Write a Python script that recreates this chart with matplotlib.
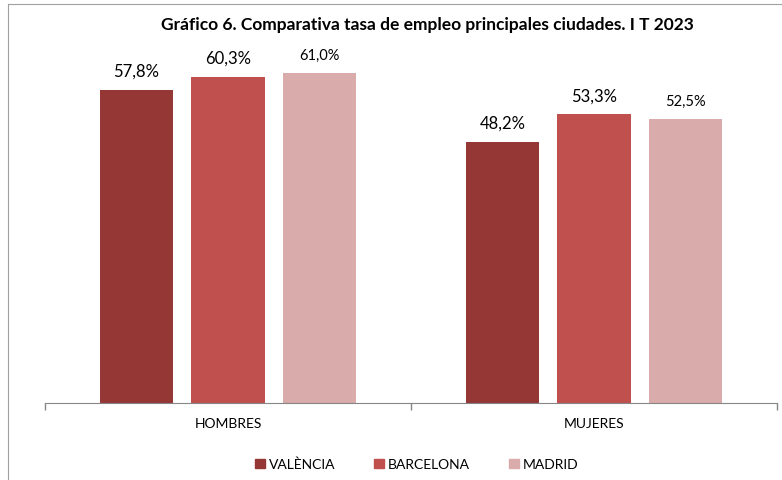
import numpy as np
import matplotlib.pyplot as plt
from matplotlib.lines import Line2D
from matplotlib.patches import Patch

plt.rcParams['font.family'] = ['Lato', 'DejaVu Sans']

# data
categories = ['HOMBRES', 'MUJERES']
cities = ['VALÈNCIA', 'BARCELONA', 'MADRID']
valencia = [57.8, 48.2]
barcelona = [60.3, 53.3]
madrid = [61.0, 52.5]
colors = ['#953735', '#C0504D', '#DAABAB']
label_sizes = [12, 12, 10.5]   # madrid labels are drawn smaller in the original

fig = plt.figure(figsize=(7.82, 4.81), dpi=100)
ax = fig.add_axes([0.0575, 0.160, 0.936, 0.788])

x = np.arange(len(categories))
width = 0.2
offsets = [-0.25, 0, 0.25]
series = [valencia, barcelona, madrid]

for vals, off, col, fs, name in zip(series, offsets, colors, label_sizes, cities):
    bars = ax.bar(x + off, vals, width, color=col, label=name)
    for b, v in zip(bars, vals):
        ax.annotate(f"{v:.1f}%".replace('.', ','), (b.get_x() + b.get_width() / 2, v),
                    xytext=(0, 8), textcoords='offset points', ha='center', va='bottom',
                    fontsize=fs, color='black')

ax.set_xlim(-0.5, 1.5)
ax.set_ylim(0, 70)
ax.set_yticks([])
ax.set_xticks([-0.5, 0.5, 1.5])
ax.set_xticklabels([])
ax.tick_params(axis='x', direction='out', length=5, color='#868686', width=1)
for s in ['top', 'right', 'left']:
    ax.spines[s].set_visible(False)
ax.spines['bottom'].set_color('#868686')

for i, c in enumerate(categories):
    ax.text(i, -3.7, c, ha='center', va='center', fontsize=10)

fig.text(0.547, 0.948, 'Gráfico 6. Comparativa tasa de empleo principales ciudades. I T 2023',
         ha='center', va='center', fontsize=12.5, fontweight='bold')

handles = [Patch(color=c) for c in colors]
fig.legend(handles, cities, loc='center', bbox_to_anchor=(0.533, 0.033), ncol=3,
           frameon=False, fontsize=10, handlelength=0.7, handleheight=0.7,
           handletextpad=0.3, columnspacing=2.8)

# chart area border (left and top visible)
fig.add_artist(Line2D([0.0105, 0.0105], [0, 0.99], transform=fig.transFigure, color='#A0A0A0', lw=0.8))
fig.add_artist(Line2D([0.0105, 1.0], [0.99, 0.99], transform=fig.transFigure, color='#A0A0A0', lw=0.8))

plt.savefig('out.png', dpi=100)
